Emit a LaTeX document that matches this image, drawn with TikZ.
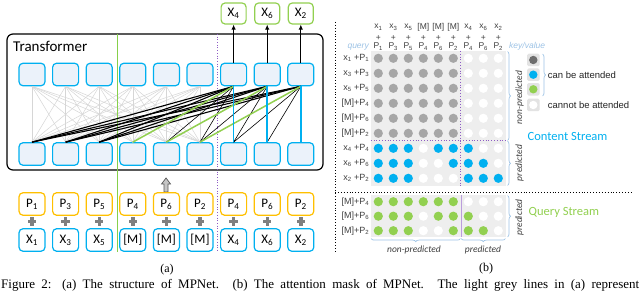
\documentclass[tikz,border=0pt]{standalone}
\usepackage{fontspec}
\setmainfont{Liberation Serif}
\newfontfamily\calfont{Carlito}
\newfontfamily\arfont{Liberation Sans}
\usetikzlibrary{decorations.pathreplacing,arrows.meta}
\definecolor{cblue}{HTML}{00B0F0}
\definecolor{cgreen}{HTML}{92D050}
\definecolor{cvgreen}{HTML}{86D04A}
\definecolor{corange}{HTML}{FFC000}
\definecolor{cpurple}{HTML}{8E5CC4}
\definecolor{cboxfill}{HTML}{EBF2FA}
\definecolor{clgrey}{HTML}{D6D6D6}
\definecolor{cmgrey}{HTML}{A6A6A6}
\definecolor{cdgrey}{HTML}{6E6E6E}
\definecolor{cbg}{HTML}{EEEEEE}
\definecolor{clegbg}{HTML}{E3E3E3}
\definecolor{cbrace}{HTML}{9DC3E6}
\definecolor{ctext}{HTML}{404040}
\definecolor{cplus}{HTML}{7F7F7F}
\newcommand{\mysb}[1]{\textsubscript{#1}}
\tikzset{
  tbox/.style={draw=cblue, line width=1.2pt, rounded corners=4pt, minimum width=26pt, minimum height=22.5pt, inner sep=0pt, font=\calfont\fontsize{13}{13}\selectfont},
  hbox/.style={tbox, fill=cboxfill},
  xbox/.style={tbox, fill=white},
  pbox/.style={tbox, draw=corange, fill=white},
  obox/.style={tbox, draw=cgreen, fill=white, minimum width=25pt, minimum height=21pt},
  gline/.style={draw=clgrey, line width=0.5pt},
  kline/.style={draw=black, line width=1.1pt},
  nline/.style={draw=black, line width=0.6pt},
  qline/.style={draw=cgreen, line width=1.5pt},
  vline/.style={draw=cblue, line width=1.5pt},
  oarrow/.style={draw=black, line width=1.2pt, -{Latex[length=5pt,width=4.5pt]}},
  hdr/.style={font=\arfont\fontsize{8.5}{8.5}\selectfont, text=ctext, inner sep=0pt},
  rowlab/.style={font=\arfont\fontsize{9}{9}\selectfont, text=ctext, inner sep=0pt, anchor=east},
  itlab/.style={font=\calfont\itshape\fontsize{9.5}{9.5}\selectfont, text=ctext, inner sep=0pt},
  bluelab/.style={font=\arfont\itshape\fontsize{8.5}{8.5}\selectfont, text=cbrace, inner sep=0pt},
  bracestyle/.style={draw=cbrace, line width=0.7pt, decorate, decoration={brace, amplitude=3pt}},
  legsq/.style={fill=clegbg, rounded corners=1.5pt, minimum size=12.5pt, inner sep=0pt},
  legtxt/.style={font=\arfont\fontsize{9.5}{9.5}\selectfont, text=black!85, anchor=west, inner sep=0pt},
}
\begin{document}
\begin{tikzpicture}[x=1pt,y=-1pt]
\useasboundingbox (0,0) rectangle (640,291);
\clip (0,0) rectangle (640,291);
\fill[white] (0,0) rectangle (640,291);

% ---------------- (a) ----------------
\node[draw=black, line width=1.2pt, rounded corners=6pt, minimum width=316pt, minimum height=136pt, inner sep=0pt] (tf) at (165,102) {};
\node[anchor=base west, inner sep=0pt, font=\calfont\fontsize{15}{15}\selectfont] (tflab) at (13,52) {Transformer};

% hidden boxes
\foreach \i in {1,...,9}{
  \pgfmathsetmacro\cx{32+33.6*(\i-1)}
  \node[hbox] (t\i) at (\cx,74.5) {};
  \node[hbox] (b\i) at (\cx,154) {};
}
% light grey lines
\foreach \i in {1,...,6}{
  \foreach \j in {1,...,6}{
    \draw[gline] (t\i.south) -- (b\j.north);
  }
}

% separators inside (a)
\coordinate (ga) at (117,34);
\coordinate (gb) at (117,252);
\draw[cvgreen, line width=1pt] (ga) -- (gb);
\coordinate (pa) at (217,34);
\coordinate (pb) at (217,252);
\draw[cpurple, dotted, line width=0.7pt] (pa) -- (pb);

% thick black
\foreach \i in {7,8,9}{
  \foreach \j in {1,2,3}{
    \draw[kline] (t\i.south) -- (b\j.north);
  }
}
% thin black
\foreach \i/\j in {7/5,7/6,8/6,8/7,9/7,9/8}{
  \draw[nline] (t\i.south) -- (b\j.north);
}
% green
\foreach \i/\j in {7/4,8/5,9/6}{
  \draw[qline] (t\i.south) -- (b\j.north);
}
% blue
\foreach \i in {7,8,9}{
  \draw[vline] (t\i.south) -- (b\i.north);
}

% output boxes
\foreach \i/\lab in {7/4,8/6,9/2}{
  \pgfmathsetmacro\cx{32+33.6*(\i-1)}
  \node[obox] (o\i) at (\cx,13.5) {X\mysb{\lab}};
  \draw[oarrow] (t\i.north) -- (o\i.south);
}

% up arrow
\filldraw[fill=gray!45, draw=gray!70!black, line width=0.7pt] (166,178) -- (170.5,184) -- (168,184) -- (168,192) -- (164,192) -- (164,184) -- (161.5,184) -- cycle;

% input boxes
\foreach \i/\pl/\xl in {1/1/X\mysb{1},2/3/X\mysb{3},3/5/X\mysb{5},4/4/[M],5/6/[M],6/2/[M],7/4/X\mysb{4},8/6/X\mysb{6},9/2/X\mysb{2}}{
  \pgfmathsetmacro\cx{32+33.6*(\i-1)}
  \node[pbox] (p\i) at (\cx,204) {P\mysb{\pl}};
  \node[xbox] (x\i) at (\cx,240) {\xl};
  \fill[cplus] ({\cx-4.2},220) rectangle ({\cx+4.2},223.4);
  \fill[cplus] ({\cx-1.7},217.4) rectangle ({\cx+1.7},226);
}

\node[font=\fontsize{12}{12}\selectfont, inner sep=0pt] (alab) at (167,269.5) {(a)};

% ---------------- (b) ----------------
\draw[dotted, line width=0.9pt] (335,22) -- (335,253);
\draw[dotted, line width=0.9pt] (335,192) -- (632,192);

\fill[cbg] (370.8,51) rectangle (505.8,185.8);
\fill[cbg] (370.8,195.2) rectangle (505.8,237.4);

% headers
\foreach \j/\tl/\bl in {1/x\mysb{1}/1,2/x\mysb{3}/3,3/x\mysb{5}/5,4/[M]/4,5/[M]/6,6/[M]/2,7/x\mysb{4}/4,8/x\mysb{6}/6,9/x\mysb{2}/2}{
  \pgfmathsetmacro\cx{378.3+15*(\j-1)}
  \node[hdr] (ht\j) at (\cx,27.3) {\tl};
  \node[hdr] (hp\j) at (\cx,37.6) {+};
  \node[hdr] (hb\j) at (\cx,46.7) {P\mysb{\bl}};
}
\node[bluelab, anchor=east] (qlab) at (369,46.7) {query};
\node[bluelab, anchor=west] (kvlab) at (509,46.7) {key/value};

% row labels
\foreach \r/\lab in {1/x\mysb{1} +P\mysb{1},2/x\mysb{3} +P\mysb{3},3/x\mysb{5} +P\mysb{5},4/[M]+P\mysb{4},5/[M]+P\mysb{6},6/[M]+P\mysb{2},7/x\mysb{4} +P\mysb{4},8/x\mysb{6} +P\mysb{6},9/x\mysb{2} +P\mysb{2}}{
  \node[rowlab] (rl\r) at (369.5,{58.3+15*(\r-1)}) {\lab};
}
\foreach \r/\lab in {1/[M]+P\mysb{4},2/[M]+P\mysb{6},3/[M]+P\mysb{2}}{
  \node[rowlab] (ql\r) at (369.5,{201.7+14.5*(\r-1)}) {\lab};
}

% mask circles: content stream
\foreach \r/\pat in {
  1/{cmgrey,cmgrey,cmgrey,cmgrey,cmgrey,cmgrey,white,white,white},
  2/{cmgrey,cmgrey,cmgrey,cmgrey,cmgrey,cmgrey,white,white,white},
  3/{cmgrey,cmgrey,cmgrey,cmgrey,cmgrey,cmgrey,white,white,white},
  4/{cmgrey,cmgrey,cmgrey,cmgrey,cmgrey,cmgrey,white,white,white},
  5/{cmgrey,cmgrey,cmgrey,cmgrey,cmgrey,cmgrey,white,white,white},
  6/{cmgrey,cmgrey,cmgrey,cmgrey,cmgrey,cmgrey,white,white,white},
  7/{cblue,cblue,cblue,white,cblue,cblue,cblue,white,white},
  8/{cblue,cblue,cblue,white,white,cblue,cblue,cblue,white},
  9/{cblue,cblue,cblue,white,white,white,cblue,cblue,cblue}}{
  \foreach \c [count=\j] in \pat {
    \fill[\c] ({378.3+15*(\j-1)},{58.3+15*(\r-1)}) circle (4.6pt);
  }
}
% query stream
\foreach \r/\pat in {
  1/{cgreen,cgreen,cgreen,cgreen,cgreen,cgreen,white,white,white},
  2/{cgreen,cgreen,cgreen,white,cgreen,cgreen,cgreen,white,white},
  3/{cgreen,cgreen,cgreen,white,white,cgreen,cgreen,cgreen,white}}{
  \foreach \c [count=\j] in \pat {
    \fill[\c] ({378.3+15*(\j-1)},{201.7+14.5*(\r-1)}) circle (4.6pt);
  }
}

% purple dotted separators
\draw[cpurple, dotted, line width=0.8pt] (460.8,51) -- (460.8,185.8);
\draw[cpurple, dotted, line width=0.8pt] (370.8,140.8) -- (505.8,140.8);
\draw[cpurple!60, line width=0.6pt] (460.8,195.2) -- (460.8,237.4);

% braces
\draw[bracestyle] (507.5,51.5) -- (507.5,140.5);
\draw[bracestyle] (507.5,141.2) -- (507.5,185.5);
\draw[bracestyle] (507.5,195.5) -- (507.5,237);
\draw[bracestyle] (460.4,238.6) -- (371.2,238.6);
\draw[bracestyle] (505.4,238.6) -- (461.2,238.6);

\node[itlab, rotate=90] (np1) at (519.5,97.5) {non-predicted};
\node[itlab, rotate=90] (pr1) at (519.5,163) {predicted};
\node[itlab, rotate=90] (pr2) at (519.5,217.5) {predicted};
\node[itlab] (np2) at (414,250) {non-predicted};
\node[itlab] (pr3) at (483,250) {predicted};

% legend
\node[legsq] (l1) at (533.3,60) {};
\node[legsq] (l2) at (533.3,74.7) {};
\node[legsq] (l3) at (533.3,89.3) {};
\node[legsq] (l4) at (533.3,105) {};
\fill[cdgrey] (l1) circle (4.2pt);
\fill[cblue] (l2) circle (4.2pt);
\fill[cgreen] (l3) circle (4.2pt);
\fill[white] (l4) circle (4.2pt);
\draw[bracestyle] (542.5,54) -- (542.5,96);
\node[legtxt] (lt1) at (547.7,75) {can be attended};
\node[legtxt] (lt2) at (547.7,105.3) {cannot be attended};

\node[anchor=west, inner sep=0pt, font=\calfont\fontsize{12.5}{12.5}\selectfont, text=cblue] (cs) at (527.5,136.7) {Content Stream};
\node[anchor=west, inner sep=0pt, font=\calfont\fontsize{12.5}{12.5}\selectfont, text=cgreen] (qs) at (528.5,212.3) {Query Stream};

\node[font=\fontsize{12}{12}\selectfont, inner sep=0pt] (blab) at (486,268.5) {(b)};

% caption
\node[anchor=base west, inner sep=0pt] (cap) at (1,288.5) {\fontsize{13}{13}\selectfont\makebox[638pt][s]{Figure 2: (a) The structure of MPNet. (b) The attention mask of MPNet. The light grey lines in (a) represent}};
\end{tikzpicture}
\end{document}
